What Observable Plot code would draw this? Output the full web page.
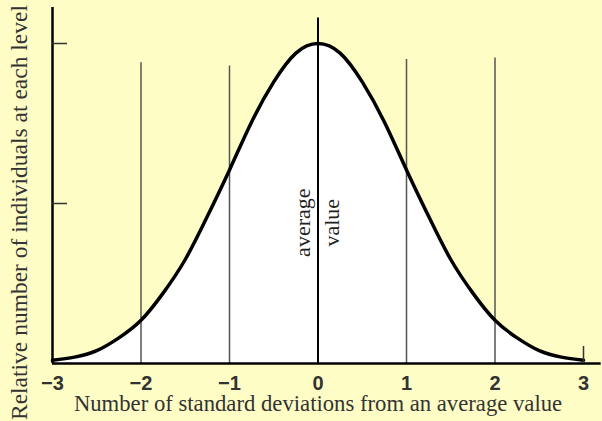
<!DOCTYPE html>
<html><head><meta charset="utf-8">
<script src="https://cdn.jsdelivr.net/npm/d3@7"></script>
<script src="https://cdn.jsdelivr.net/npm/@observablehq/plot@0.6"></script>
<style>body{margin:0;background:#fffdc6;} svg{display:block}</style>
</head><body><div id="chart"></div>
<script>
// Curve values (relative height, peak = 1)
const curveX = [-3, -2.75, -2.5, -2.25, -2, -1.75, -1.5, -1.25, -1, -0.75, -0.5, -0.25, 0,
                0.25, 0.5, 0.75, 1, 1.25, 1.5, 1.75, 2, 2.25, 2.5, 2.75, 3];
const curveY = [0.01, 0.02, 0.04, 0.08, 0.135, 0.22, 0.325, 0.46, 0.605, 0.755, 0.88, 0.97, 1,
                0.97, 0.88, 0.755, 0.605, 0.46, 0.325, 0.22, 0.135, 0.08, 0.04, 0.02, 0.01];
// vertical guide lines (standard deviation markers) and their top heights
const guideX = [-2, -1, 1, 2];
const guideTop = [0.94, 0.93, 0.95, 0.955];
const centerX = [0];
const centerTop = [1.08];
const xTicks = [-3, -2, -1, 0, 1, 2, 3];
const xTickLabels = ["\u22123", "\u22122", "\u22121", "0", "1", "2", "3"];
const yTicks = [0.5, 1];
const yMax = 1.1125;
const xTitle = "Number of standard deviations from an average value";
const yTitle = "Relative number of individuals at each level";
const midLabelY = 0.44;
const midLabelLeft = "average";
const midLabelRight = "value";

const curve = curveX.map((x, i) => ({x, y: curveY[i]}));
const guides = guideX.map((x, i) => ({x, top: guideTop[i]}));
const center = centerX.map((x, i) => ({x, top: centerTop[i]}));
const tickLabels = xTicks.map((x, i) => ({x, label: xTickLabels[i]}));
const serif = "'Liberation Serif', 'Times New Roman', serif";
const sans = "'Liberation Sans', Arial, sans-serif";

const chart = Plot.plot({
  width: 602, height: 421,
  marginLeft: 52, marginRight: 19, marginTop: 7, marginBottom: 58,
  x: {domain: [-3, 3]},
  y: {domain: [0, yMax]},
  style: {background: "#fffdc6", fontFamily: sans, overflow: "visible"},
  marks: [
    Plot.areaY(curve, {x: "x", y: "y", fill: "white", curve: "natural"}),
    Plot.ruleX(guides, {x: "x", y1: 0, y2: "top", stroke: "#555", strokeWidth: 1.5}),
    Plot.ruleX(center, {x: "x", y1: 0, y2: "top", stroke: "black", strokeWidth: 2}),
    Plot.lineY(curve, {x: "x", y: "y", stroke: "black", strokeWidth: 3.5, curve: "natural"}),
    Plot.ruleX([-3], {y1: 0, y2: yMax, stroke: "black", strokeWidth: 2.5}),
    Plot.ruleY([0], {x1: -3, x2: 3.2, stroke: "black", strokeWidth: 2.5}),
    Plot.axisY({ticks: yTicks, tickSize: -15, tickFormat: () => "", label: null, stroke: "#333", strokeWidth: 1.5}),
    Plot.axisX({ticks: [3], tickSize: -17, tickFormat: () => "", label: null, stroke: "#333", strokeWidth: 1.5}),
    Plot.text(tickLabels, {x: "x", text: "label", frameAnchor: "bottom", lineAnchor: "top", dy: 12,
      fontFamily: sans, fontSize: 20, fontWeight: "bold", fill: "#333"}),
    Plot.text([xTitle], {text: d => d, frameAnchor: "bottom", textAnchor: "middle", lineAnchor: "bottom", dy: 47,
      fontFamily: serif, fontSize: 22.7, fill: "#333"}),
    Plot.text([yTitle], {text: d => d, frameAnchor: "left", textAnchor: "middle", rotate: -90, lineAnchor: "bottom", dx: -26, dy: 27,
      fontFamily: serif, fontSize: 23.5, fill: "#333"}),
    Plot.text([midLabelLeft], {text: d => d, x: () => 0, y: () => midLabelY, rotate: -90, lineAnchor: "bottom", dx: -8,
      fontFamily: serif, fontSize: 22, fill: "#222"}),
    Plot.text([midLabelRight], {text: d => d, x: () => 0, y: () => midLabelY, rotate: -90, lineAnchor: "bottom", dx: 21,
      fontFamily: serif, fontSize: 22, fill: "#222"})
  ]
});
document.getElementById("chart").appendChild(chart);
</script>
</body></html>
